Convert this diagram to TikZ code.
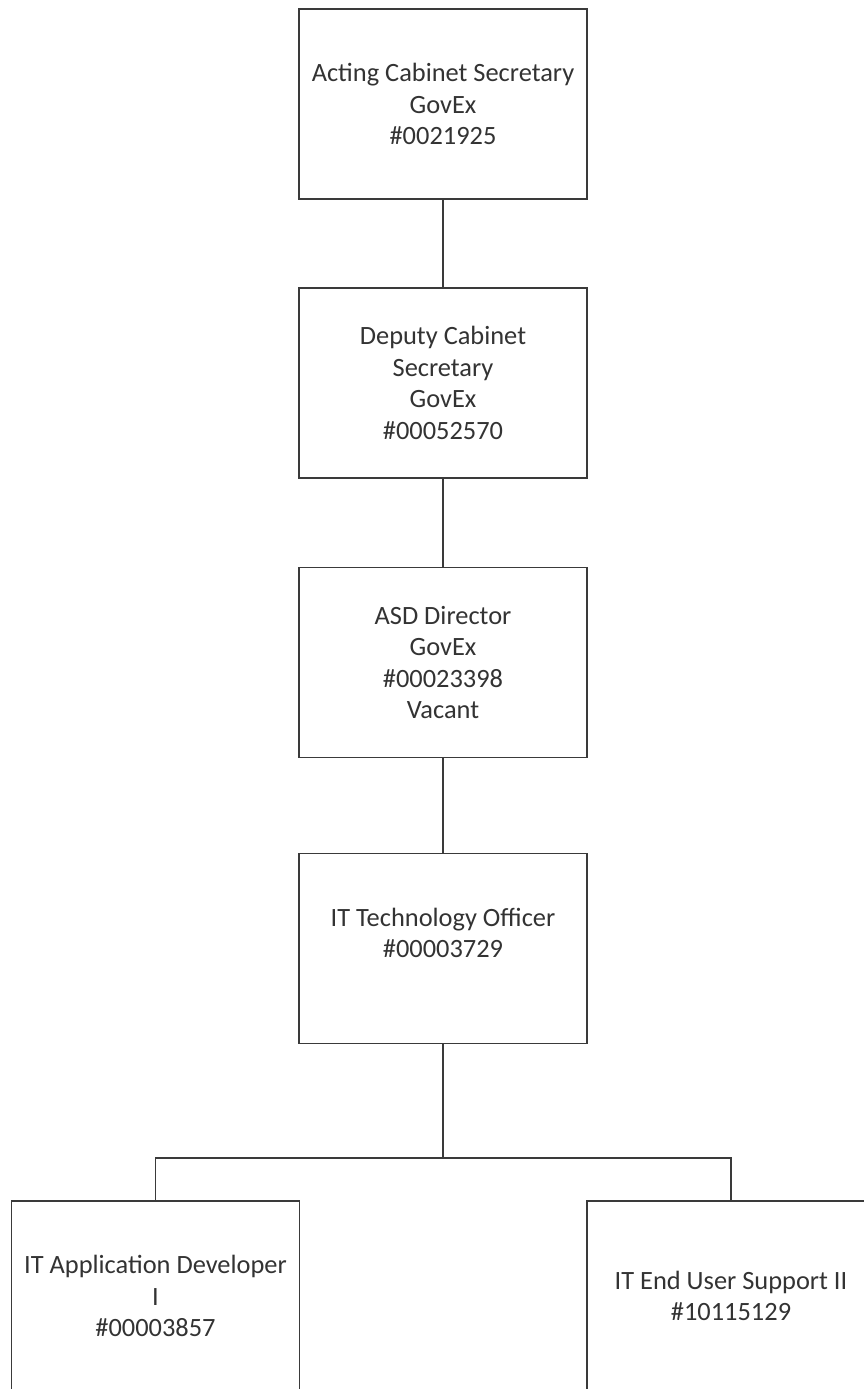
\documentclass[tikz,border=0pt]{standalone}
\usepackage{fontspec}
\setmainfont{Carlito}
\definecolor{linec}{HTML}{3A3A3A}
\definecolor{textc}{HTML}{333333}
\begin{document}
\begin{tikzpicture}[x=1pt,y=-1pt,
  orgbox/.style={draw=linec, line width=1.8pt, fill=white, minimum width=288pt, minimum height=190pt,
    align=center, text=textc, inner sep=0pt,
    font=\fontsize{26.4}{31.5}\selectfont},
  conn/.style={draw=linec, line width=1.8pt}]
\useasboundingbox (0,0) rectangle (864,1389);
\clip (0,0) rectangle (864,1389);
\node[orgbox] (b1) at (443,104) {Acting Cabinet Secretary\\GovEx\\\#0021925};
\node[orgbox] (b2) at (443,383) {Deputy Cabinet\\Secretary\\GovEx\\\#00052570};
\node[orgbox] (b3) at (443,662.5) {ASD Director\\GovEx\\\#00023398\\Vacant};
\node[orgbox] (b4) at (443,948.5) {IT Technology Officer\\\#00003729\\\mbox{}};
\node[orgbox] (b5) at (155.5,1296) {IT Application Developer\\I\\\#00003857};
\node[orgbox] (b6) at (731,1296) {IT End User Support II\\\#10115129};
\coordinate (bus) at (443,1158);
\draw[conn] (b1.south) -- (b2.north);
\draw[conn] (b2.south) -- (b3.north);
\draw[conn] (b3.south) -- (b4.north);
\draw[conn] (b4.south) -- (bus);
\draw[conn] (b5.north) |- (bus) -| (b6.north);
\end{tikzpicture}
\end{document}
